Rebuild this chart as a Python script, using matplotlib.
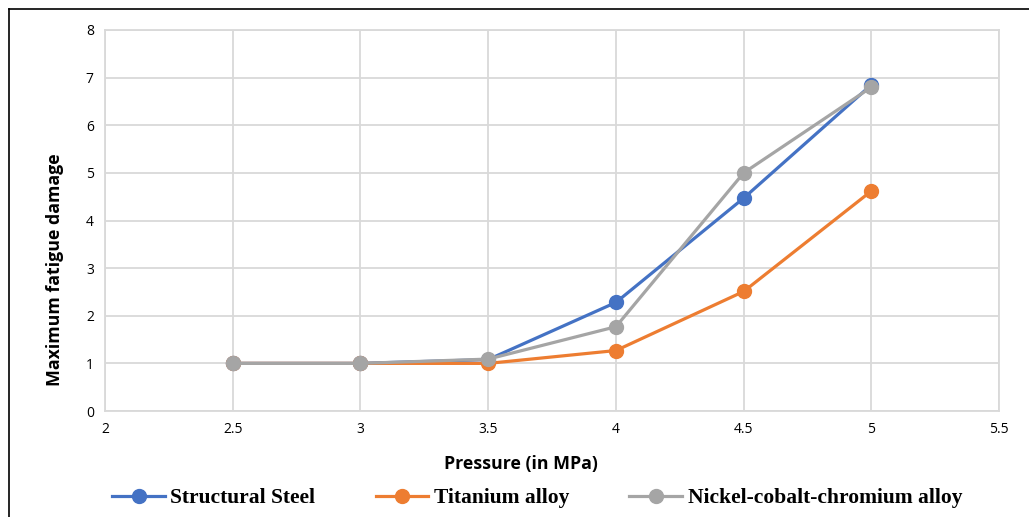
import matplotlib.pyplot as plt
from matplotlib.lines import Line2D

pressure = [2.5, 3, 3.5, 4, 4.5, 5]
steel = [1.0, 1.0, 1.08, 2.28, 4.47, 6.85]
titanium = [1.0, 1.0, 1.0, 1.27, 2.51, 4.62]
nickel = [1.0, 1.0, 1.09, 1.77, 5.0, 6.8]

labels = ['Structural Steel', 'Titanium alloy', 'Nickel-cobalt-chromium alloy']
colors = ['#4472C4', '#ED7D31', '#A5A5A5']

fig = plt.figure(figsize=(10.29, 5.17), dpi=100)
ax = fig.add_axes([0.102, 0.205, 0.869, 0.737])

for ys, lab, c in zip([steel, titanium, nickel], labels, colors):
    ax.plot(pressure, ys, color=c, lw=2.3, marker='o', ms=10, label=lab)

ax.set_xlim(2, 5.5)
ax.set_ylim(0, 8)
ax.set_xticks([2, 2.5, 3, 3.5, 4, 4.5, 5, 5.5])
ax.set_xticklabels(['2', '2.5', '3', '3.5', '4', '4.5', '5', '5.5'])
ax.set_yticks(range(0, 9))
ax.grid(True, color='#D9D9D9', lw=1.3)
ax.set_axisbelow(True)
for s in ax.spines.values():
    s.set_color('#D9D9D9')
    s.set_linewidth(1.3)
ax.tick_params(length=0, labelsize=10, pad=8)
for t in ax.get_xticklabels() + ax.get_yticklabels():
    t.set_family('Open Sans')

ax.set_xlabel('Pressure (in MPa)', fontsize=12.8, fontweight='bold', family='Open Sans')
ax.set_ylabel('Maximum fatigue damage', fontsize=12.8, fontweight='bold', family='Open Sans')
ax.xaxis.set_label_coords(0.465, -0.115)
ax.yaxis.set_label_coords(-0.046, 0.37)

fig.legend(loc='center', bbox_to_anchor=(0.522, 0.036), ncol=3, frameon=False,
           prop={'family': 'Liberation Serif', 'weight': 'bold', 'size': 15.5},
           handlelength=2.45, columnspacing=2.8, handletextpad=0.25)

fig.add_artist(Line2D([0.009, 1], [0.983, 0.983], color='black', lw=1.2, transform=fig.transFigure))
fig.add_artist(Line2D([0.009, 0.009], [0, 0.983], color='black', lw=1.2, transform=fig.transFigure))

fig.savefig('out.png', dpi=100)
